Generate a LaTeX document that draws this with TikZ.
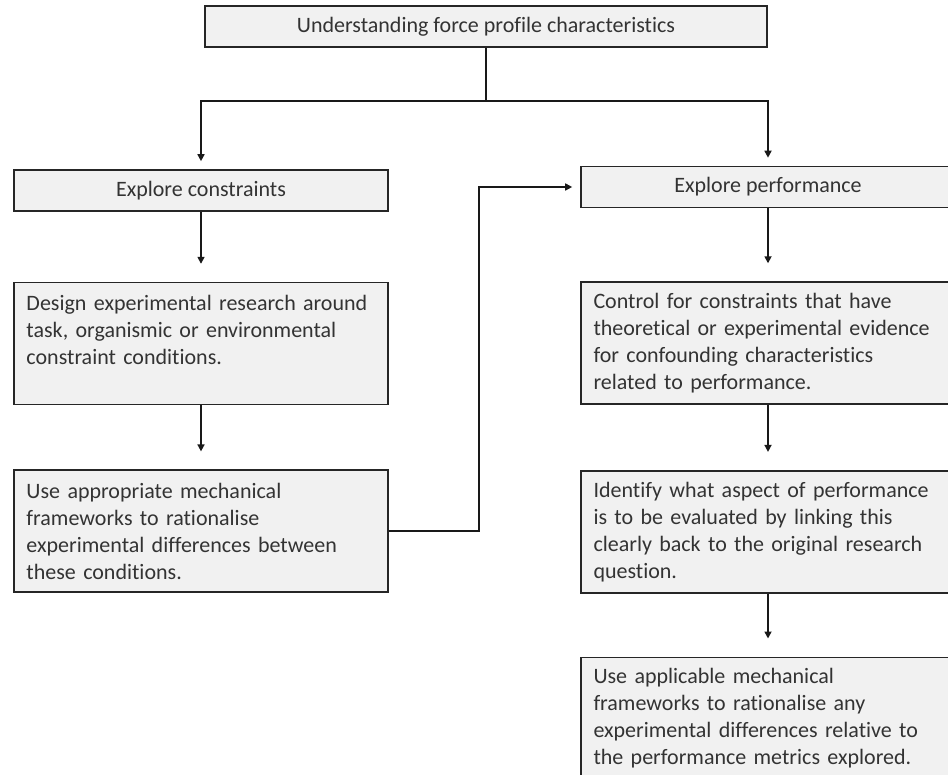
\documentclass[tikz,border=0pt]{standalone}
\usepackage{fontspec}
\setmainfont{Carlito}[Ligatures=CommonOff]
\usetikzlibrary{positioning,arrows.meta}

\definecolor{boxfill}{HTML}{F1F1F1}
\definecolor{boxtext}{HTML}{333333}

\tikzset{
  stepbox/.style={draw=black!85, line width=1.6pt, fill=boxfill, text=boxtext,
    font=\fontsize{22}{27}\selectfont},
  headbox/.style={stepbox, minimum width=374pt, minimum height=41pt, inner sep=0pt},
  textbox/.style={stepbox, text width=349pt, minimum height=122pt, align=left,
    inner xsep=12.5pt, inner ysep=7pt},
  link/.style={draw=black!90, line width=1.6pt, -{Triangle[length=7pt,width=7pt]}, shorten >=18pt}
}

\begin{document}
\begin{tikzpicture}[x=1pt, y=-1pt]

\useasboundingbox (0,0) rectangle (948,775);
\clip (0,0) rectangle (948,775);

% --- top of the tree ---
\node[headbox, minimum width=562pt] (goal) at (486,26.5) {Understanding force profile characteristics};

% --- left column: constraints ---
\node[headbox] (cons) at (201,190.5) {Explore constraints};
\node[textbox, below=70pt of cons] (design) {Design experimental research around\\
  task, organismic or environmental\\
  constraint conditions.\\ ~};
\node[textbox, below=64pt of design] (mech) {Use appropriate mechanical\\
  frameworks to rationalise\\
  experimental differences between\\
  these conditions.};

% --- right column: performance ---
\node[headbox] (perf) at (768,187) {Explore performance};
\node[textbox, below=73pt of perf] (control) {Control for constraints that have\\
  theoretical or experimental evidence\\
  for confounding characteristics\\
  related to performance.};
\node[textbox, below=65pt of control] (aspect) {Identify what aspect of performance\\
  is to be evaluated by linking this\\
  clearly back to the original research\\
  question.};
\node[textbox, below=63pt of aspect] (apply) {Use applicable mechanical\\
  frameworks to rationalise any\\
  experimental differences relative to\\
  the performance metrics explored.};

% split from the goal
\draw[draw=black!90, line width=1.6pt] (goal.south) -- ++(0,53) coordinate (fork);
\draw[link, shorten >=8pt] (fork) -| (cons.north);
\draw[link, shorten >=8pt] (fork) -| (perf.north);

% steps down each column
\draw[link] (cons) -- (design);
\draw[link] (design) -- (mech);
\draw[link] (perf) -- (control);
\draw[link] (control) -- (aspect);
\draw[link] (aspect) -- (apply);

% constraints feed into performance
\draw[link, shorten >=8pt] (mech.east) -- ++(90,0) |- (perf.west);

\end{tikzpicture}
\end{document}
